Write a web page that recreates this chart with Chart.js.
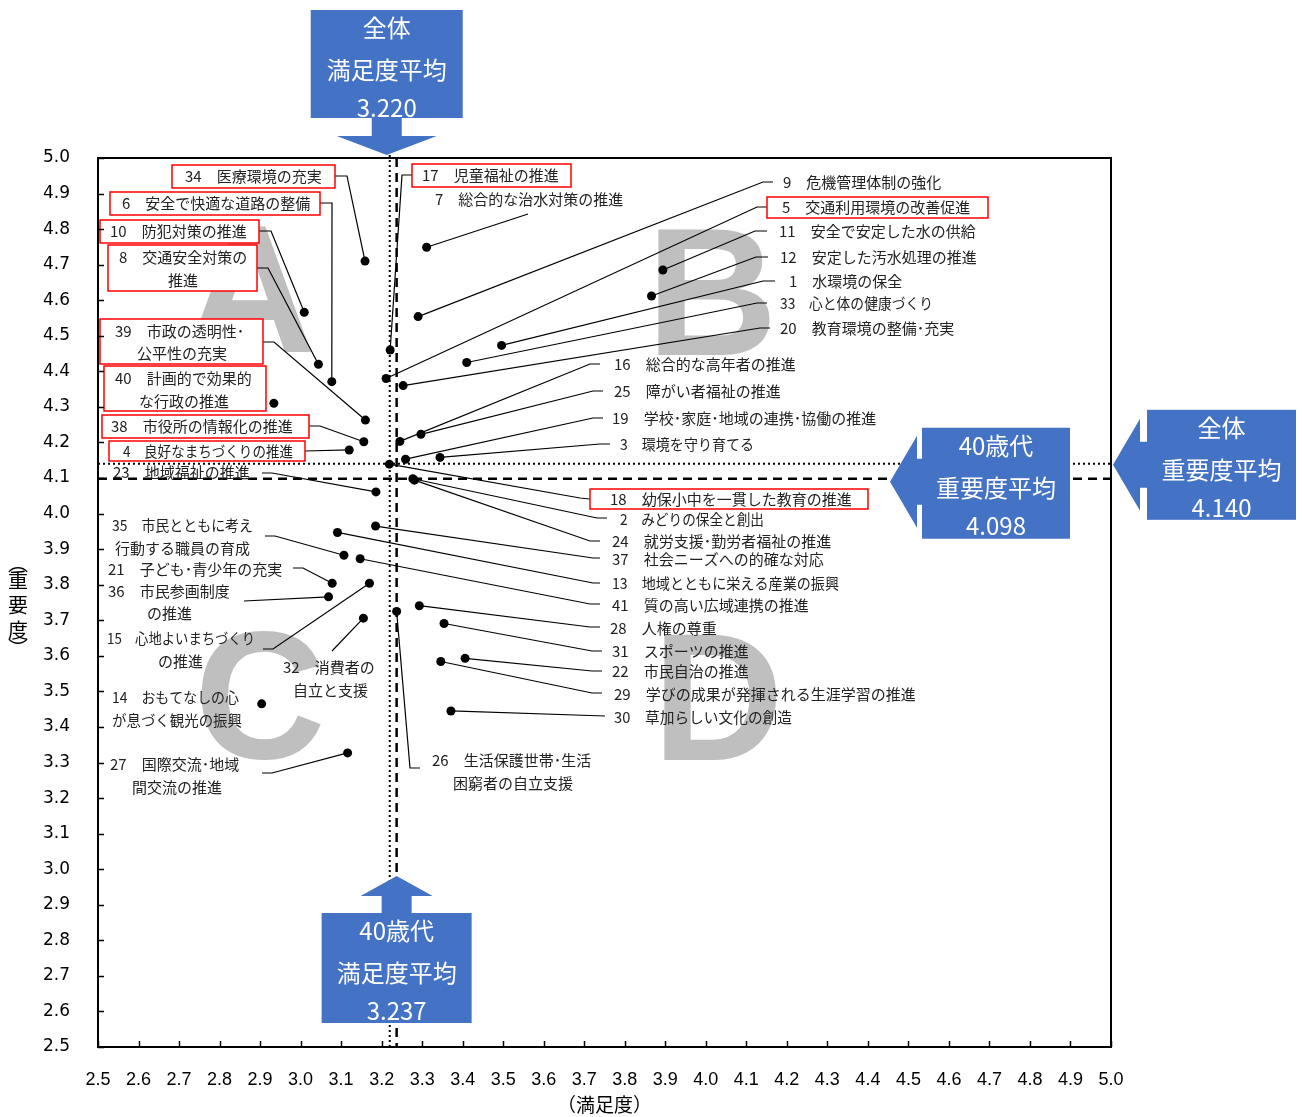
<!DOCTYPE html>
<html lang="ja">
<head>
<meta charset="utf-8">
<title>満足度・重要度（40歳代）</title>
<script src="https://cdn.jsdelivr.net/npm/chart.js@4.4.1/dist/chart.umd.min.js"></script>
<style>
  html, body { margin: 0; padding: 0; background: #fff; }
  #wrap { width: 1302px; height: 1117px; }
</style>
</head>
<body>
<div id="wrap"><canvas id="chart" width="1302" height="1117"></canvas></div>
<script>
// 施策番号と名称
const itemNumbers = [1, 2, 3, 4, 5, 6, 7, 8, 9, 10, 11, 12, 13, 14, 15, 16, 17, 18, 19, 20, 21,
  22, 23, 24, 25, 26, 27, 28, 29, 30, 31, 32, 33, 34, 35, 36, 37, 38, 39, 40, 41];
const itemNames = [
  "水環境の保全", "みどりの保全と創出", "環境を守り育てる", "良好なまちづくりの推進",
  "交通利用環境の改善促進", "安全で快適な道路の整備", "総合的な治水対策の推進", "交通安全対策の推進",
  "危機管理体制の強化", "防犯対策の推進", "安全で安定した水の供給", "安定した汚水処理の推進",
  "地域とともに栄える産業の振興", "おもてなしの心が息づく観光の振興", "心地よいまちづくりの推進",
  "総合的な高年者の推進", "児童福祉の推進", "幼保小中を一貫した教育の推進",
  "学校･家庭･地域の連携･協働の推進", "教育環境の整備･充実", "子ども･青少年の充実", "市民自治の推進",
  "地域福祉の推進", "就労支援･勤労者福祉の推進", "障がい者福祉の推進", "生活保護世帯･生活困窮者の自立支援",
  "国際交流･地域間交流の推進", "人権の尊重", "学びの成果が発揮される生涯学習の推進", "草加らしい文化の創造",
  "スポーツの推進", "消費者の自立と支援", "心と体の健康づくり", "医療環境の充実",
  "市民とともに考え行動する職員の育成", "市民参画制度の推進", "社会ニーズへの的確な対応",
  "市役所の情報化の推進", "市政の透明性･公平性の充実", "計画的で効果的な行政の推進", "質の高い広域連携の推進",
];
// 満足度（x）と重要度（y）
const satisfaction = [3.496, 3.277, 3.344, 3.120, 3.211, 3.077, 3.311, 3.044, 3.290, 3.009, 3.894,
  3.866, 3.091, 2.904, 3.170, 3.245, 3.221, 3.219, 3.259, 3.253, 3.078, 3.406, 3.186, 3.281, 3.297,
  3.237, 3.116, 3.293, 3.346, 3.371, 3.354, 3.155, 3.410, 3.159, 3.107, 3.069, 3.185, 3.156, 3.160,
  2.934, 3.147];
const importance = [4.473, 4.098, 4.158, 4.179, 4.380, 4.371, 4.749, 4.420, 4.554, 4.566, 4.685,
  4.612, 3.947, 3.465, 3.804, 4.203, 4.460, 4.139, 4.153, 4.360, 3.804, 3.593, 4.061, 4.094, 4.223,
  3.725, 3.327, 3.741, 3.584, 3.445, 3.691, 3.706, 4.425, 4.710, 3.883, 3.766, 3.965, 4.202, 4.263,
  4.310, 3.873];
// 強調（赤枠）する施策
const highlighted = [4, 5, 6, 8, 10, 17, 18, 34, 38, 39, 40];

const tickValues = [2.5, 2.6, 2.7, 2.8, 2.9, 3.0, 3.1, 3.2, 3.3, 3.4, 3.5, 3.6, 3.7, 3.8, 3.9,
  4.0, 4.1, 4.2, 4.3, 4.4, 4.5, 4.6, 4.7, 4.8, 4.9, 5.0];
const tickLabels = ["2.5", "2.6", "2.7", "2.8", "2.9", "3.0", "3.1", "3.2", "3.3", "3.4", "3.5",
  "3.6", "3.7", "3.8", "3.9", "4.0", "4.1", "4.2", "4.3", "4.4", "4.5", "4.6", "4.7", "4.8", "4.9", "5.0"];

// 平均値
const overallSatisfaction = 3.220;
const overallImportance = 4.140;
const ageSatisfaction = 3.237;
const ageImportance = 4.098;

const quadrantLetters = ["A", "B", "C", "D"];

// ---- layout (pixels) ----
const FONT_JP = "'Noto Sans CJK JP', 'Noto Sans', sans-serif";
const letterPos = [[250, 352], [712, 355], [260, 758], [718, 760]];

// t: first text line [x, y]; t2: second line; split: chars of name on first line
// w: max widths of the lines; box: [x1, y1, x2, y2]; path: leader points before the marker
const labelLayout = {
  34: { t: [185, 176], box: [172, 165, 335, 188], path: [[335, 176], [347, 176]] },
  6:  { t: [122, 203], box: [110, 192, 320, 215], path: [[320, 203], [332, 203]] },
  10: { t: [110, 231], box: [100, 220, 259, 243], path: [[259, 231], [271, 231]] },
  8:  { t: [119, 257], t2: [168, 280], split: 7, box: [108, 245, 257, 291], path: [[257, 268], [268, 268]] },
  39: { t: [115, 331], t2: [137, 353], split: 7, box: [100, 319, 263, 364], path: [[263, 342], [274, 342]] },
  40: { t: [115, 378], t2: [139, 401], split: 7, box: [104, 366, 266, 411] },
  38: { t: [111, 426], box: [102, 415, 309, 438], path: [[309, 426], [320, 426]] },
  4:  { t: [123, 451], w: [170], box: [109, 441, 305, 461], path: [[305, 451]] },
  17: { t: [422, 175], box: [412, 164, 571, 187], path: [[412, 175], [402, 175]] },
  7:  { t: [435, 199], path: [[528, 214]] },
  9:  { t: [783, 182], path: [[773, 182], [763, 182]] },
  5:  { t: [782, 207], box: [767, 197, 988, 218], path: [[767, 207], [757, 207]] },
  11: { t: [779, 231], path: [[767, 231], [755, 231]] },
  12: { t: [780, 257], path: [[768, 257], [756, 257]] },
  1:  { t: [789, 281], path: [[775, 281], [763, 281]] },
  33: { t: [780, 303], w: [153], path: [[767, 303], [757, 303]] },
  20: { t: [780, 328], path: [[770, 328], [760, 328]] },
  16: { t: [614, 364], path: [[600, 364], [590, 364]] },
  25: { t: [614, 391], path: [[603, 391], [593, 391]] },
  19: { t: [612, 418], path: [[603, 418], [593, 418]] },
  3:  { t: [620, 444], w: [134], path: [[610, 444], [600, 444]] },
  18: { t: [610, 499], box: [590, 489, 868, 509], path: [[590, 499], [580, 498]] },
  2:  { t: [620, 519], w: [144], path: [[607, 518], [597, 518]] },
  24: { t: [612, 541], path: [[600, 541], [590, 541]] },
  37: { t: [612, 559], path: [[600, 558], [593, 558]] },
  13: { t: [612, 583], w: [227], path: [[600, 583], [593, 583]] },
  41: { t: [612, 605], path: [[600, 604], [590, 604]] },
  28: { t: [610, 628], path: [[600, 627], [590, 627]] },
  31: { t: [612, 651], path: [[602, 651], [592, 651]] },
  22: { t: [612, 671], path: [[602, 671], [592, 671]] },
  29: { t: [614, 694], path: [[602, 693], [592, 693]] },
  30: { t: [614, 717], w: [178], path: [[605, 716]] },
  26: { t: [432, 760], t2: [453, 783], split: 9, path: [[420, 768], [410, 768]] },
  23: { t: [113, 472], path: [[262, 473], [272, 473]] },
  35: { t: [112, 525], t2: [115, 548], split: 8, w: [141, 137], path: [[265, 536], [275, 536]] },
  21: { t: [108, 569], path: [[293, 568], [303, 568]] },
  36: { t: [108, 591], t2: [147, 613], split: 6, path: [[244, 601]] },
  15: { t: [107, 638], t2: [158, 661], split: 9, w: [148, 50], path: [[263, 649], [273, 649]] },
  32: { t: [283, 667], t2: [293, 690], split: 4, path: [[332, 651]] },
  14: { t: [112, 697], t2: [112, 720], split: 7, w: [127, 130] },
  27: { t: [110, 764], t2: [132, 787], split: 7, path: [[262, 773], [272, 773]] },
};

function strokeLine(ctx, x1, y1, x2, y2) {
  ctx.beginPath();
  ctx.moveTo(x1, y1);
  ctx.lineTo(x2, y2);
  ctx.stroke();
}

function drawLetters(ctx) {
  ctx.save();
  ctx.fillStyle = "#bfbfbf";
  ctx.font = "bold 182px 'Liberation Sans', Arial, sans-serif";
  ctx.textAlign = "center";
  ctx.textBaseline = "alphabetic";
  quadrantLetters.forEach((letter, i) => ctx.fillText(letter, letterPos[i][0], letterPos[i][1]));
  ctx.restore();
}

function drawAverageLines(chart) {
  const { ctx, chartArea: a, scales: { x, y } } = chart;
  const sx0 = x.getPixelForValue(overallSatisfaction);
  const sx1 = x.getPixelForValue(ageSatisfaction);
  const iy0 = y.getPixelForValue(overallImportance);
  const iy1 = y.getPixelForValue(ageImportance);
  ctx.save();
  ctx.strokeStyle = "#000";
  ctx.lineWidth = 2;
  ctx.setLineDash([2, 3]);
  strokeLine(ctx, sx0, a.top - 3, sx0, a.bottom);
  strokeLine(ctx, a.left, iy0, a.right + 2, iy0);
  ctx.lineWidth = 2.5;
  ctx.setLineDash([9, 6]);
  strokeLine(ctx, sx1, a.top, sx1, a.bottom);
  strokeLine(ctx, a.left, iy1, a.right, iy1);
  ctx.restore();
}

function drawLabels(chart) {
  const { ctx, scales: { x, y } } = chart;
  ctx.save();
  ctx.strokeStyle = "#000";
  ctx.lineWidth = 1.2;
  itemNumbers.forEach((no, i) => {
    const L = labelLayout[no];
    if (!L || !L.path) return;
    ctx.beginPath();
    L.path.forEach(([lx, ly], k) => (k ? ctx.lineTo(lx, ly) : ctx.moveTo(lx, ly)));
    ctx.lineTo(x.getPixelForValue(satisfaction[i]), y.getPixelForValue(importance[i]));
    ctx.stroke();
  });

  highlighted.forEach((no) => {
    const b = labelLayout[no].box;
    ctx.fillStyle = "#fff";
    ctx.fillRect(b[0], b[1], b[2] - b[0], b[3] - b[1]);
    ctx.strokeStyle = "#ff0000";
    ctx.lineWidth = 1.5;
    ctx.strokeRect(b[0], b[1], b[2] - b[0], b[3] - b[1]);
  });

  ctx.font = `15px ${FONT_JP}`;
  ctx.fillStyle = "#222";
  ctx.textAlign = "left";
  ctx.textBaseline = "middle";
  itemNumbers.forEach((no, i) => {
    const L = labelLayout[no];
    const name = itemNames[i];
    const w = L.w || [];
    const first = L.split ? name.slice(0, L.split) : name;
    ctx.fillText(`${no}　${first}`, L.t[0], L.t[1], w[0] || 1000);
    if (L.split) ctx.fillText(name.slice(L.split), L.t2[0], L.t2[1], w[1] || 1000);
  });
  ctx.restore();
}

function drawCallout(ctx, shape, box, lines) {
  ctx.save();
  ctx.fillStyle = "#4472c4";
  ctx.beginPath();
  shape.forEach(([px, py], k) => (k ? ctx.lineTo(px, py) : ctx.moveTo(px, py)));
  ctx.closePath();
  ctx.fill();
  ctx.fillRect(box[0], box[1], box[2] - box[0], box[3] - box[1]);
  ctx.fillStyle = "#fff";
  ctx.font = `24px ${FONT_JP}`;
  ctx.textAlign = "center";
  ctx.textBaseline = "middle";
  const cx = (box[0] + box[2]) / 2;
  [18, 60, 98].forEach((dy, k) => ctx.fillText(lines[k], cx, box[1] + dy));
  ctx.restore();
}

function drawCallouts(chart) {
  const { ctx, chartArea: a, scales: { x, y } } = chart;
  // 全体 満足度平均 (上)
  let tx = x.getPixelForValue(overallSatisfaction) - 3;
  let ty = a.top - 3;
  drawCallout(ctx,
    [[tx - 15, 110], [tx + 15, 110], [tx + 15, 136], [tx + 50, 136], [tx, ty], [tx - 50, 136], [tx - 15, 136]],
    [tx - 76, 10, tx + 76, 118],
    ["全体", "満足度平均", overallSatisfaction.toFixed(3)]);
  // 40歳代 満足度平均 (下)
  tx = x.getPixelForValue(ageSatisfaction);
  ty = 876;
  drawCallout(ctx,
    [[tx - 15, 920], [tx - 15, 896], [tx - 36, 896], [tx, ty], [tx + 36, 896], [tx + 15, 896], [tx + 15, 920]],
    [tx - 75, 913, tx + 75, 1023],
    ["40歳代", "満足度平均", ageSatisfaction.toFixed(3)]);
  // 40歳代 重要度平均 (右)
  ty = y.getPixelForValue(ageImportance) + 3;
  tx = 890;
  drawCallout(ctx,
    [[930, ty - 23], [917, ty - 23], [917, ty - 46], [tx, ty], [917, ty + 46], [917, ty + 23], [930, ty + 23]],
    [922, ty - 54, 1070, ty + 57],
    ["40歳代", "重要度平均", ageImportance.toFixed(3)]);
  // 全体 重要度平均 (右端)
  ty = y.getPixelForValue(overallImportance) + 1;
  tx = 1113;
  drawCallout(ctx,
    [[1155, ty - 23], [1140, ty - 23], [1140, ty - 46], [tx, ty], [1140, ty + 46], [1140, ty + 23], [1155, ty + 23]],
    [1147, ty - 55, 1296, ty + 55],
    ["全体", "重要度平均", overallImportance.toFixed(3)]);
}

function drawFrame(chart) {
  const { ctx, chartArea: a, scales: { x, y } } = chart;
  ctx.save();
  ctx.strokeStyle = "#000";
  ctx.lineWidth = 1.5;
  tickValues.forEach((v) => {
    const py = Math.round(y.getPixelForValue(v)) + 0.5;
    strokeLine(ctx, a.left, py, a.left + 6, py);
    const px = Math.round(x.getPixelForValue(v)) + 0.5;
    strokeLine(ctx, px, a.bottom, px, a.bottom - 6);
  });
  ctx.lineWidth = 2;
  ctx.strokeRect(a.left, a.top, a.right - a.left, a.bottom - a.top);

  ctx.fillStyle = "#000";
  ctx.textAlign = "center";
  ctx.textBaseline = "middle";
  ctx.font = `19px ${FONT_JP}`;
  ctx.fillText("（満足度）", (a.left + a.right) / 2, 1105);
  ctx.font = `20px ${FONT_JP}`;
  const yTitle = ["︵", "重", "要", "度", "︶"];
  [563, 580, 605, 630, 648].forEach((py, k) => ctx.fillText(yTitle[k], 18, py));
  ctx.restore();
}

const overlayPlugin = {
  id: "overlay",
  beforeDatasetsDraw(chart) {
    drawLetters(chart.ctx);
    drawAverageLines(chart);
    drawLabels(chart);
  },
  afterDatasetsDraw(chart) {
    drawCallouts(chart);
    drawFrame(chart);
  },
};

const setTicks = (scale) => {
  scale.ticks = tickValues.map((v) => ({ value: v }));
};

new Chart(document.getElementById("chart"), {
  type: "scatter",
  data: {
    datasets: [{
      data: satisfaction.map((v, i) => ({ x: v, y: importance[i] })),
      backgroundColor: "#000",
      borderColor: "#000",
      pointRadius: 4.5,
      pointBorderWidth: 0,
    }],
  },
  options: {
    responsive: false,
    animation: false,
    devicePixelRatio: 1,
    events: [],
    layout: { padding: { top: 158, right: 191, left: 0, bottom: 0 } },
    plugins: { legend: { display: false }, tooltip: { enabled: false } },
    scales: {
      x: {
        type: "linear",
        min: 2.5,
        max: 5.0,
        afterBuildTicks: setTicks,
        afterFit: (scale) => { scale.height = 70; },
        grid: { display: false, drawTicks: false },
        border: { display: false },
        ticks: {
          autoSkip: false,
          maxRotation: 0,
          padding: 22,
          color: "#000",
          font: { family: "'Liberation Sans Narrow', 'Liberation Sans', sans-serif", size: 18 },
          callback: (v, i) => tickLabels[i] ?? Number(v).toFixed(1),
        },
      },
      y: {
        type: "linear",
        min: 2.5,
        max: 5.0,
        afterBuildTicks: setTicks,
        afterFit: (scale) => { scale.width = 98; },
        grid: { display: false, drawTicks: false },
        border: { display: false },
        ticks: {
          autoSkip: false,
          padding: 28,
          color: "#000",
          font: { family: "'DejaVu Sans', sans-serif", size: 17 },
          callback: (v, i) => tickLabels[i] ?? Number(v).toFixed(1),
        },
      },
    },
  },
  plugins: [overlayPlugin],
});
</script>
</body>
</html>
